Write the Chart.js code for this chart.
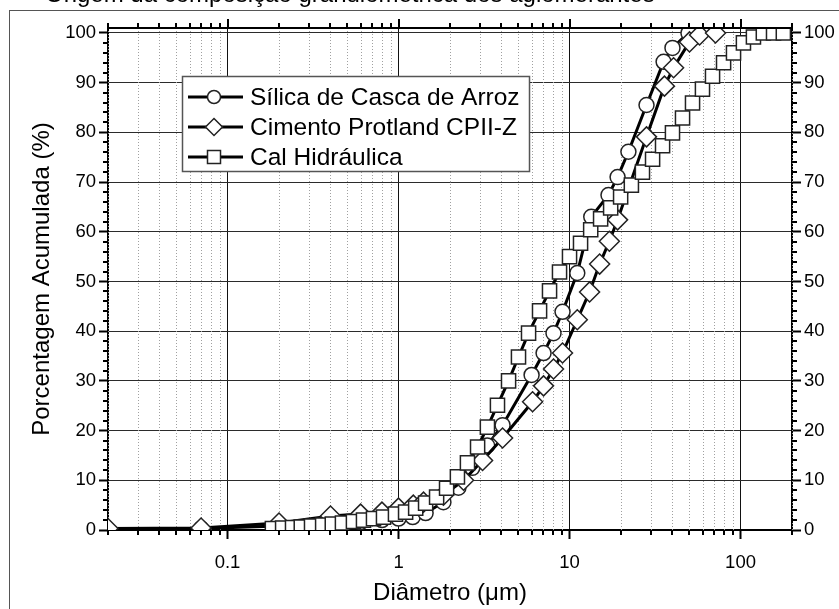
<!DOCTYPE html>
<html>
<head>
<meta charset="utf-8">
<script src="https://cdn.jsdelivr.net/npm/chart.js@4.4.0/dist/chart.umd.min.js"></script>
<style>
  html, body { margin: 0; padding: 0; background: #fff; }
  #wrap { width: 839px; height: 609px; }
</style>
</head>
<body>
<div id="wrap"><canvas id="chart1" width="839" height="609"></canvas></div>
<script>
// valores (diâmetro em µm, porcentagem acumulada)
const silicaDiam = [0.02, 0.07, 0.2, 0.4, 0.6, 0.8, 1.0, 1.21, 1.44, 1.83, 2.24, 2.7, 3.3, 4.06, 6.0, 7.05, 8.06, 9.1, 11.1, 13.4, 16.9, 19.1, 22.1, 28.2, 35.5, 40, 49.6];
const silicaPct  = [0, 0.3, 0.8, 1.2, 1.6, 2.0, 2.3, 2.6, 3.4, 5.6, 8.5, 12.5, 17, 21.1, 31.2, 35.6, 39.6, 43.9, 51.7, 63.0, 67.4, 71.0, 76.1, 85.5, 94.2, 97.0, 100];

const cimentoDiam = [0.02, 0.07, 0.2, 0.4, 0.6, 0.8, 1.0, 1.22, 1.4, 1.83, 2.4, 3.1, 4.06, 6.08, 7.05, 8.06, 9.1, 11.1, 13.1, 15.0, 17.1, 19.1, 28.2, 35.9, 40.6, 50.3, 57.6, 71.4];
const cimentoPct  = [0.3, 0.4, 1.4, 2.8, 3.2, 3.6, 4.4, 5.0, 5.6, 7.0, 10.0, 14.0, 18.5, 25.8, 29.0, 32.4, 35.6, 42.3, 47.9, 53.5, 58.1, 62.4, 79.1, 89.3, 93.0, 98.2, 99.6, 100];

const calDiam = [0.183, 0.21, 0.24, 0.27, 0.31, 0.36, 0.41, 0.47, 0.545, 0.624, 0.714, 0.817, 0.96, 1.10, 1.26, 1.44, 1.67, 1.91, 2.21, 2.53, 2.90, 3.31, 3.79, 4.40, 5.03, 5.76, 6.68, 7.64, 8.74, 10.0, 11.6, 13.3, 15.2, 17.4, 19.9, 23.0, 26.7, 30.6, 35.0, 40.0, 45.8, 52.4, 59.9, 68.6, 79.6, 91.0, 104, 119, 136, 156, 178];
const calPct  = [0.3, 0.4, 0.5, 0.6, 0.8, 1.0, 1.2, 1.4, 1.7, 2.0, 2.3, 2.6, 3.2, 3.6, 4.4, 5.4, 6.6, 8.4, 10.7, 13.5, 16.7, 20.7, 25.1, 30.0, 34.8, 39.6, 44.1, 48.1, 51.9, 55.0, 57.7, 60.4, 62.6, 64.8, 67.0, 69.4, 72.0, 74.6, 77.3, 79.9, 82.9, 85.9, 88.7, 91.3, 94.0, 96.0, 98.0, 99.2, 100, 100, 100];

const seriesNames = ['Sílica de Casca de Arroz', 'Cimento Protland CPII-Z', 'Cal Hidráulica'];
const seriesStyles = ['circle', 'rectRot', 'rect'];
const yTickValues = [0, 10, 20, 30, 40, 50, 60, 70, 80, 90, 100];
const xTickValues = [0.1, 1, 10, 100];
const xTitle = 'Diâmetro (μm)';
const yTitle = 'Porcentagem Acumulada (%)';
const topTitle = 'Origem da composição granulométrica dos aglomerantes';

function pts(xs, ys) {
    return xs.map((x, i) => ({ x: x, y: ys[i] }));
}

const tickFont = { family: 'Liberation Sans, Arial', size: 18.5 };

function serie(i, data, radius, order) {
    return {
        label: seriesNames[i],
        data: data,
        showLine: true,
        tension: 0,
        borderColor: '#000',
        borderWidth: 3,
        pointStyle: seriesStyles[i],
        pointRadius: radius,
        pointBackgroundColor: '#fff',
        pointBorderColor: '#222',
        pointBorderWidth: 1.5,
        order: order
    };
}

// ticks menores, grade pontilhada, moldura, títulos e legenda
const extras = {
    id: 'extras',
    beforeDatasetsDraw(chart) {
        const ctx = chart.ctx, x = chart.scales.x, a = chart.chartArea;
        ctx.save();
        ctx.strokeStyle = '#a0a0a0';
        ctx.lineWidth = 1;
        ctx.setLineDash([1, 2]);
        for (let dec = 0.01; dec < 1000; dec *= 10) {
            for (let m = 2; m <= 9; m++) {
                const v = dec * m;
                if (v < x.min || v > x.max) continue;
                const px = Math.round(x.getPixelForValue(v)) + 0.5;
                ctx.beginPath();
                ctx.moveTo(px, a.top);
                ctx.lineTo(px, a.bottom);
                ctx.stroke();
            }
        }
        ctx.restore();
    },
    afterDraw(chart) {
        const ctx = chart.ctx, x = chart.scales.x, y = chart.scales.y, a = chart.chartArea;
        ctx.save();
        ctx.strokeStyle = '#000';
        ctx.lineWidth = 2;
        // borda superior
        ctx.beginPath();
        ctx.moveTo(a.left - 1, a.top);
        ctx.lineTo(a.right + 1, a.top);
        ctx.stroke();
        // ticks do eixo x (baixo e cima)
        for (let dec = 0.01; dec < 1000; dec *= 10) {
            for (let m = 1; m <= 9; m++) {
                const v = dec * m;
                if (v < x.min || v > x.max) continue;
                const px = Math.round(x.getPixelForValue(v));
                const len = m === 1 ? 9 : 5;
                ctx.beginPath();
                ctx.moveTo(px, a.top);
                ctx.lineTo(px, a.top - len);
                if (m !== 1) {
                    ctx.moveTo(px, a.bottom);
                    ctx.lineTo(px, a.bottom + len);
                }
                ctx.stroke();
            }
        }
        // ticks menores do eixo y (esquerda e direita)
        for (let v = 2; v < 101; v += 2) {
            if (v % 10 === 0) continue;
            const py = Math.round(y.getPixelForValue(v));
            ctx.beginPath();
            ctx.moveTo(a.left, py);
            ctx.lineTo(a.left - 5, py);
            ctx.moveTo(a.right, py);
            ctx.lineTo(a.right + 5, py);
            ctx.stroke();
        }
        // moldura externa
        ctx.strokeStyle = '#555';
        ctx.lineWidth = 1;
        ctx.strokeRect(9.5, 10.5, 900, 700);
        // título cortado no topo
        ctx.fillStyle = '#000';
        ctx.font = '24px Liberation Sans, Arial';
        ctx.textAlign = 'left';
        ctx.textBaseline = 'alphabetic';
        ctx.fillText(topTitle, 45, 2);
        // títulos dos eixos
        ctx.font = '24px Liberation Sans, Arial';
        ctx.textAlign = 'center';
        ctx.textBaseline = 'middle';
        ctx.fillText(xTitle, (a.left + a.right) / 2, 593);
        ctx.save();
        ctx.translate(42, (a.top + a.bottom) / 2);
        ctx.rotate(-Math.PI / 2);
        ctx.fillText(yTitle, 0, 0);
        ctx.restore();
        // legenda
        ctx.fillStyle = '#fff';
        ctx.fillRect(182, 76, 347, 95);
        ctx.strokeStyle = '#555';
        ctx.lineWidth = 1.5;
        ctx.strokeRect(182.5, 76.5, 347, 95);
        ctx.font = '24.5px Liberation Sans, Arial';
        ctx.textAlign = 'left';
        seriesNames.forEach((name, i) => {
            const ly = 97 + i * 30;
            ctx.strokeStyle = '#000';
            ctx.lineWidth = 3;
            ctx.beginPath();
            ctx.moveTo(188, ly);
            ctx.lineTo(243, ly);
            ctx.stroke();
            ctx.fillStyle = '#fff';
            ctx.strokeStyle = '#222';
            ctx.lineWidth = 1.5;
            ctx.beginPath();
            if (seriesStyles[i] === 'circle') {
                ctx.arc(214, ly, 6.5, 0, Math.PI * 2);
            } else if (seriesStyles[i] === 'rectRot') {
                ctx.moveTo(214, ly - 8.5);
                ctx.lineTo(222.5, ly);
                ctx.lineTo(214, ly + 8.5);
                ctx.lineTo(205.5, ly);
                ctx.closePath();
            } else {
                ctx.rect(207.5, ly - 6.5, 13, 13);
            }
            ctx.fill();
            ctx.stroke();
            ctx.fillStyle = '#000';
            ctx.textBaseline = 'middle';
            ctx.fillText(name, 250, ly + 1);
        });
        ctx.restore();
    }
};

const data = {
    datasets: [
        serie(0, pts(silicaDiam, silicaPct), 7.5, 3),
        serie(1, pts(cimentoDiam, cimentoPct), 10, 2),
        serie(2, pts(calDiam, calPct), 10, 1)
    ]
};

const config = {
    type: 'scatter',
    data: data,
    options: {
        responsive: false,
        animation: false,
        devicePixelRatio: 1,
        layout: { padding: { top: 28, left: 0, right: 0, bottom: 0 } },
        plugins: {
            legend: { display: false },
            tooltip: { enabled: false }
        },
        scales: {
            x: {
                type: 'logarithmic',
                position: 'bottom',
                min: 0.02,
                max: 200,
                afterBuildTicks: s => { s.ticks = xTickValues.map(v => ({ value: v })); },
                afterFit: s => { s.height = 79; },
                ticks: {
                    callback: v => String(v),
                    font: tickFont,
                    color: '#000',
                    maxRotation: 0,
                    autoSkip: false,
                    padding: 13
                },
                grid: { color: '#111', lineWidth: 1, tickLength: 9, tickColor: '#000', tickWidth: 2 },
                border: { color: '#000', width: 2 }
            },
            y: {
                position: 'left',
                min: 0,
                max: 101,
                afterBuildTicks: s => { s.ticks = yTickValues.map(v => ({ value: v })); },
                afterFit: s => { s.width = 108; },
                ticks: { font: tickFont, color: '#000', padding: 3 },
                grid: { color: '#2b2b2b', lineWidth: 1, tickLength: 9, tickColor: '#000', tickWidth: 2 },
                border: { color: '#000', width: 2 }
            },
            y2: {
                position: 'right',
                min: 0,
                max: 101,
                afterBuildTicks: s => { s.ticks = yTickValues.map(v => ({ value: v })); },
                afterFit: s => { s.width = 47; },
                ticks: { font: tickFont, color: '#000', padding: 3 },
                grid: { drawOnChartArea: false, tickLength: 9, tickColor: '#000', tickWidth: 2 },
                border: { color: '#000', width: 2 }
            }
        }
    },
    plugins: [extras]
};

const chart1 = new Chart(document.getElementById('chart1'), config);
</script>
</body>
</html>
